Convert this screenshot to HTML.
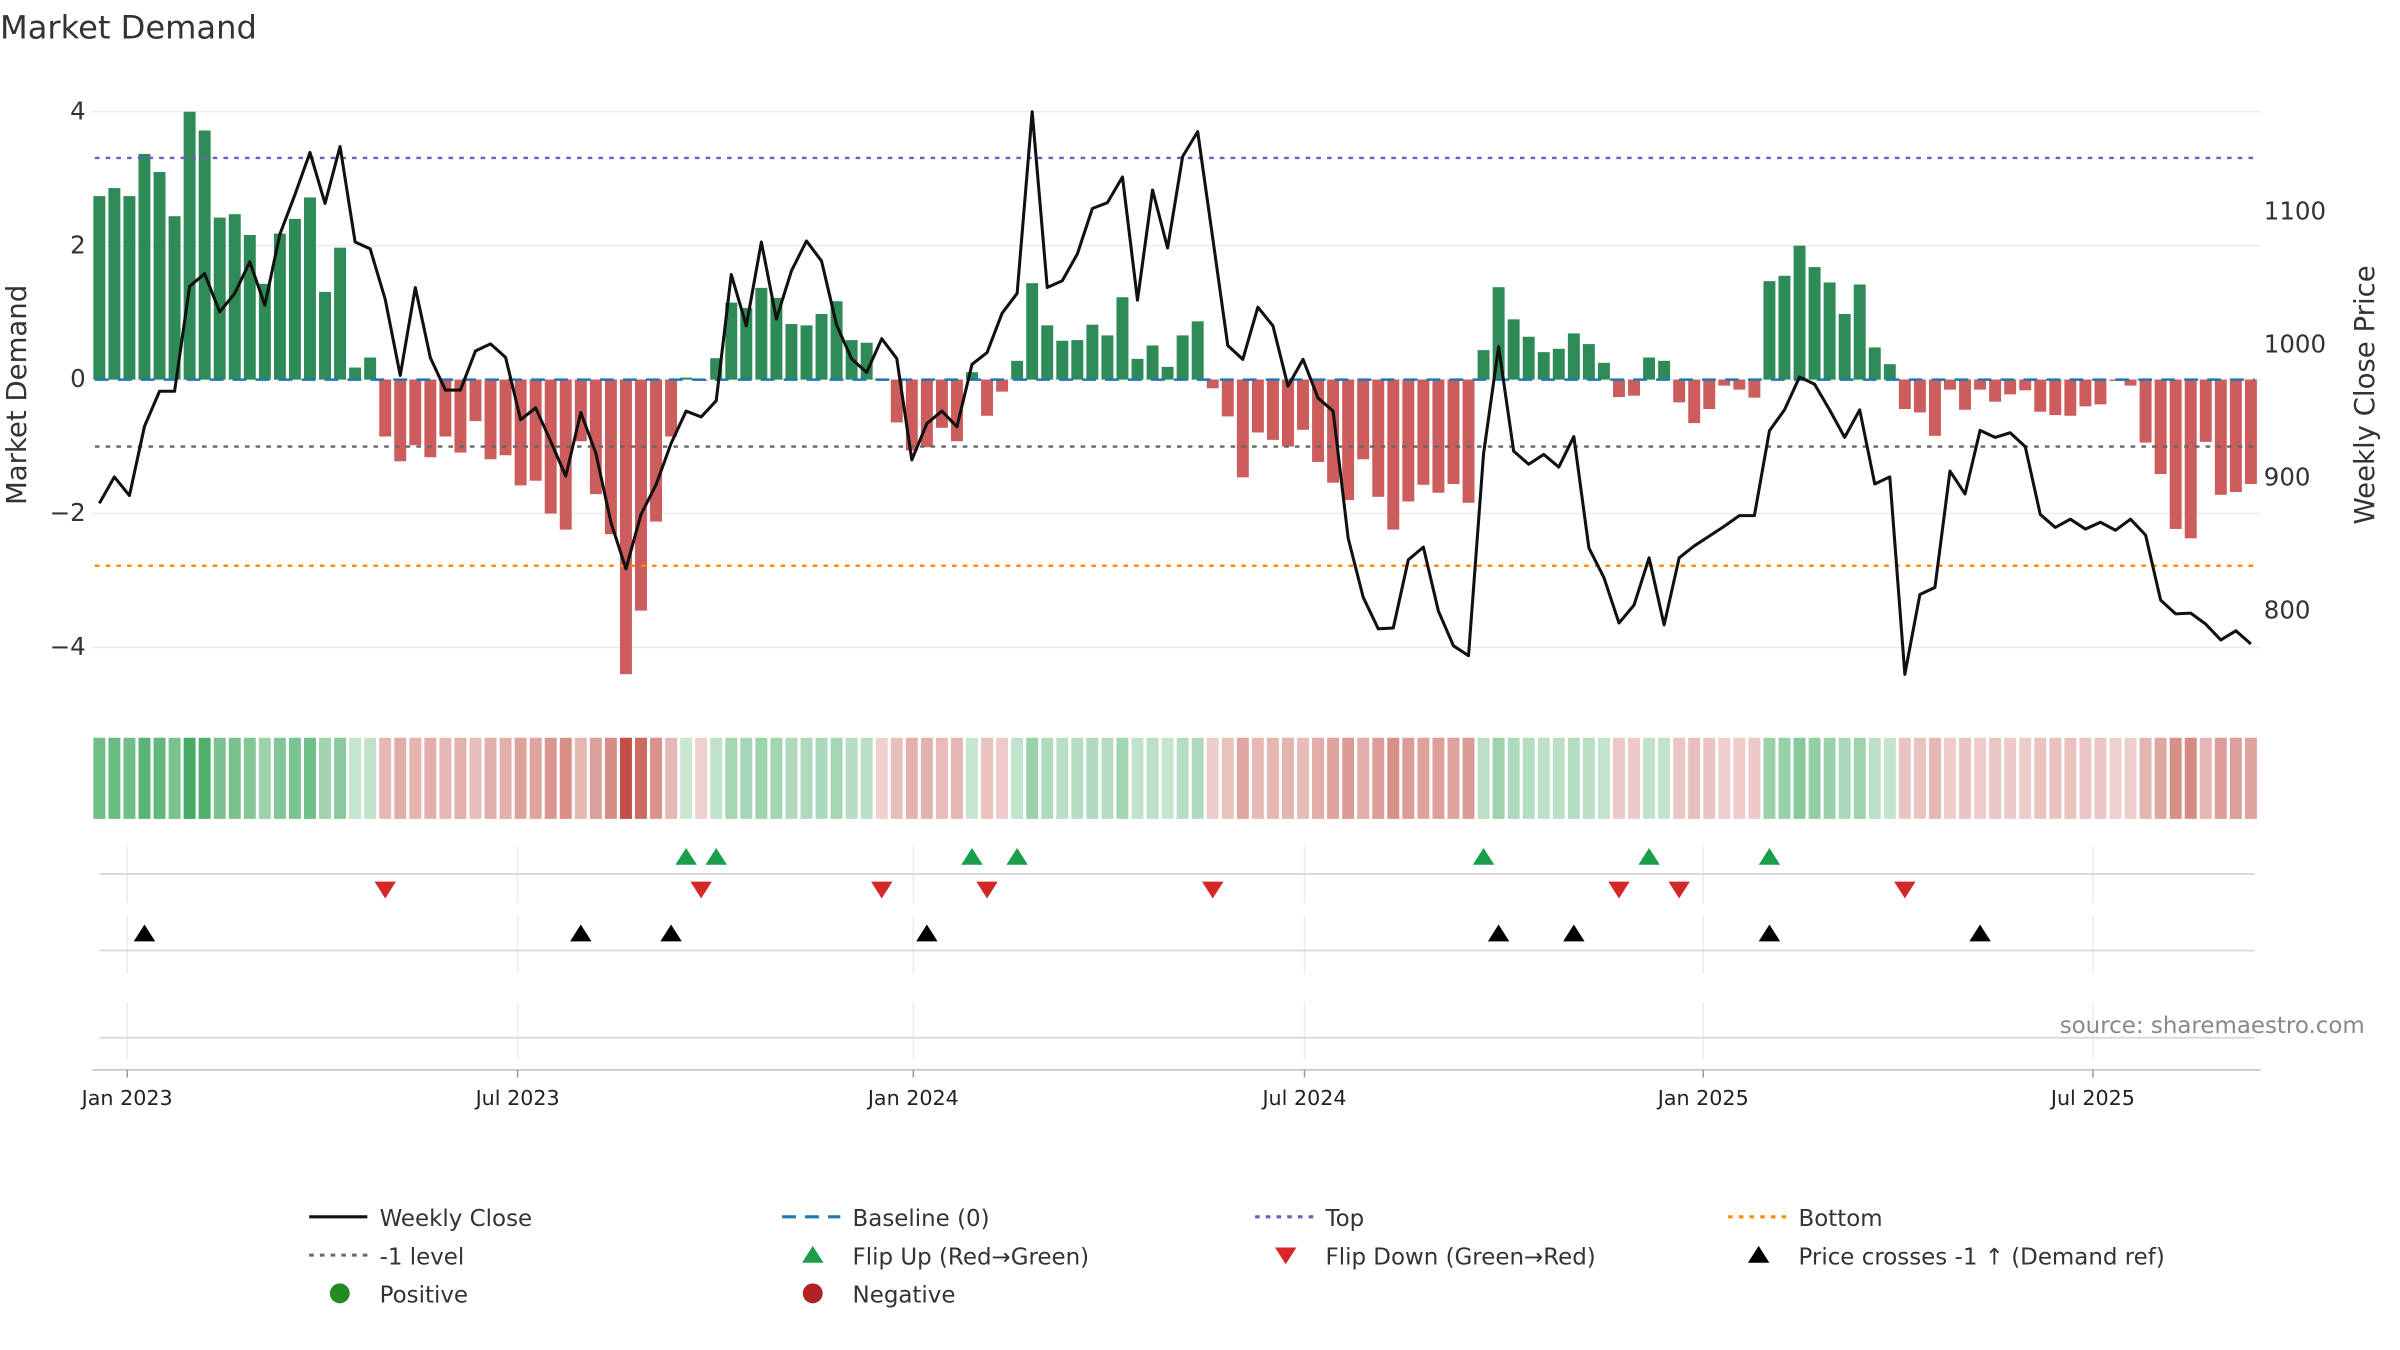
<!DOCTYPE html>
<html><head><meta charset="utf-8">
<style>
html,body{margin:0;padding:0;background:#fff;}
svg{display:block;font-family:"DejaVu Sans","Liberation Sans",sans-serif;}
</style></head>
<body>
<svg id="chart" width="2400" height="1350" viewBox="0 0 1568 882" xmlns="http://www.w3.org/2000/svg">
<text x="0" y="25" font-size="21" fill="#333">Market Demand</text>
<g id="grid"></g>
<g id="bars"></g>
<g id="lines"></g>
<g id="heat"></g>
<g id="markers"></g>
<g id="axes"></g>
<text x="1545" y="675" font-size="15" fill="#888" text-anchor="end">source: sharemaestro.com</text>
<g id="legend"></g>
</svg>
<script>
const demand = [2.74,2.86,2.74,3.37,3.10,2.44,4.0,3.72,2.42,2.47,2.16,1.43,2.18,2.40,2.72,1.31,1.97,0.18,0.33,-0.85,
-1.22,-0.98,-1.16,-0.85,-1.09,-0.62,-1.19,-1.13,-1.58,-1.51,-2.0,-2.24,-0.92,-1.71,-2.31,-4.4,-3.45,-2.12,-0.85,0.03,
-0.02,0.32,1.15,1.07,1.37,1.22,0.83,0.81,0.98,1.17,0.59,0.55,-0.02,-0.64,-1.06,-1.01,-0.72,-0.92,0.11,-0.54,
-0.18,0.28,1.44,0.81,0.58,0.59,0.82,0.66,1.23,0.31,0.51,0.19,0.66,0.87,-0.13,-0.55,-1.46,-0.79,-0.9,-1.0,
-0.75,-1.23,-1.54,-1.8,-1.19,-1.75,-2.24,-1.82,-1.57,-1.69,-1.56,-1.84,0.44,1.38,0.9,0.64,0.41,0.46,0.69,0.53,
0.25,-0.26,-0.24,0.33,0.28,-0.34,-0.65,-0.44,-0.09,-0.15,-0.27,1.47,1.55,2.0,1.68,1.45,0.98,1.42,0.48,0.23,
-0.44,-0.49,-0.84,-0.15,-0.45,-0.15,-0.33,-0.22,-0.16,-0.48,-0.53,-0.54,-0.4,-0.37,-0.02,-0.09,-0.94,-1.41,-2.23,-2.37,
-0.93,-1.72,-1.68,-1.56];
const price = [880.7,900.6,886.6,938.6,965,965,1043.9,1053.4,1024.6,1038.6,1062.3,1029.7,1083.1,1112.8,1144.5,1106.2,1149,1077.2,1072.1,1034.1,
976.9,1043,990.2,965.9,965.9,995.3,1000.6,990.5,943.6,952.5,927.3,901.2,949,918.4,866.5,831.5,872.4,894.7,925.8,950.1,
945.7,957.9,1052.8,1014.2,1077.2,1019.3,1055.5,1078,1062.9,1014.8,989.3,979.2,1004.5,989.6,913.4,940.7,950.1,938.3,985.2,994.1,
1023.7,1038.6,1175.1,1043,1048.1,1068.2,1102.4,1106.8,1126.1,1033.5,1116.3,1072.7,1141.5,1160.2,1080.1,999.4,989,1028.2,1014.2,968.8,
989,959.9,950.1,854.6,810.1,786.4,787,838.3,847.8,799.7,773.6,766.2,918,998.5,920,910.1,917.5,908,930.9,847.2,
824.9,790.8,804.2,839.8,789.3,839.8,848.7,856.1,863.5,871.5,871.5,935.3,951,975.7,970.3,951,930.3,951,895.3,900.6,
752.2,812.2,817.5,905,887.8,935.6,930.3,933.8,923.4,872.4,862.6,868.8,861.4,866.5,860.5,868.8,856.9,808,797.6,798.2,
789.9,778,784.9,775];
const leftTicks = [4,2,0,-2,-4];
const rightTicks = [1100,1000,900,800];
const xTickLabels = ["Jan 2023","Jul 2023","Jan 2024","Jul 2024","Jan 2025","Jul 2025"];
const xTickWeeks = [1.85,27.8,54.1,80.1,106.6,132.5];
const levels = [3.31,-1,-2.78]; // top, -1 level, bottom

const NS="http://www.w3.org/2000/svg";
function mk(tag,attrs,parent,text){const e=document.createElementNS(NS,tag);for(const k in attrs)e.setAttribute(k,attrs[k]);if(text!==undefined)e.textContent=text;parent.appendChild(e);return e;}
const X0=60,X1=1477;
const xw=i=>64.9+i*9.83;
const yl=v=>248-v*43.75;
const yr=p=>225.2-(p-1000)*0.869;
const pr=y=>1000-(y-225.2)/0.869;

const grid=document.getElementById('grid');
leftTicks.forEach(t=>{const l=mk('line',{x1:X0,x2:X1,y1:yl(t),y2:yl(t),stroke:'#ececec','stroke-width':1},grid);

});
[[553,590,571],[598,636,621],[655,692,678]].forEach(p=>{
 xTickWeeks.forEach(w=>{const l=mk('line',{x1:xw(w),x2:xw(w),y1:p[0],y2:p[1],stroke:'#ececec','stroke-width':1},grid);
 
 });
 const h=mk('line',{x1:65,x2:1473,y1:p[2],y2:p[2],stroke:'#d8d8d8','stroke-width':1.2},grid);
 
 
});
const bars=document.getElementById('bars');
demand.forEach((v,i)=>{const y=Math.min(yl(v),yl(0));const h=Math.abs(yl(v)-yl(0));
 const r=mk('rect',{x:xw(i)-3.9,y:y,width:7.8,height:Math.max(h,0.3),fill:v>=0?'#2e8b57':'#cd5c5c'},bars);
 
 });
const lines=document.getElementById('lines');
const lvlStyle=[['#6a5acd','top-line'],['#666','minus-one-line'],['#ff8c00','bottom-line']];
levels.forEach((v,k)=>{const l=mk('line',{x1:62,x2:1473,y1:yl(v),y2:yl(v),stroke:lvlStyle[k][0],'stroke-width':1.6,'stroke-dasharray':'3,4'},lines);
 
 });
const bl=mk('line',{x1:62,x2:1473,y1:yl(0),y2:yl(0),stroke:'#1f77b4','stroke-width':1.6,'stroke-dasharray':'9,6'},lines);


const pl=mk('polyline',{points:price.map((p,i)=>xw(i)+','+yr(p)).join(' '),fill:'none',stroke:'#111','stroke-width':2,'stroke-linejoin':'round'},lines);


const heat=document.getElementById('heat');
const maxAbs=Math.max(...demand.map(Math.abs));
demand.forEach((v,i)=>{const a=0.25+0.7*Math.abs(v)/maxAbs;
 const c=v>=0?`rgba(46,160,80,${a})`:`rgba(190,70,60,${a})`;
 const r=mk('rect',{x:xw(i)-3.9,y:482,width:7.8,height:53,fill:c},heat);
 
 });
const mkr=document.getElementById('markers');
function tri(x,y,up,col,name){const s=7;const pts=up?`${x-s},${y+5} ${x+s},${y+5} ${x},${y-6}`:`${x-s},${y-5} ${x+s},${y-5} ${x},${y+6}`;
 const t=mk('polygon',{points:pts,fill:col},mkr);
 
 }
const priceLvl=pr(yl(-1));
for(let i=1;i<demand.length;i++){
 if(demand[i-1]<0&&demand[i]>=0)tri(xw(i),560,true,'#1a9e4a','flip-up-marker');
 if(demand[i-1]>=0&&demand[i]<0)tri(xw(i),581,false,'#d62728','flip-down-marker');
 if(price[i-1]<priceLvl&&price[i]>=priceLvl)tri(xw(i),610,true,'#000','price-cross-marker');
}
const ax=document.getElementById('axes');
leftTicks.forEach(t=>{const e=mk('text',{x:56,y:yl(t)+5,'font-size':16,fill:'#333','text-anchor':'end'},ax,t<0?'\u2212'+Math.abs(t):String(t));
 
 });
rightTicks.forEach(t=>{const e=mk('text',{x:1479,y:yr(t)+5,'font-size':16,fill:'#333'},ax,String(t));
 
 });
const bx=mk('line',{x1:X0,x2:X1,y1:699,y2:699,stroke:'#ccc','stroke-width':1.2},ax);


xTickLabels.forEach((s,k)=>{const x=xw(xTickWeeks[k]);
 const tk=mk('line',{x1:x,x2:x,y1:699,y2:704,stroke:'#999'},ax);
 
 
 const e=mk('text',{x:x,y:722,'font-size':13.5,fill:'#222','text-anchor':'middle'},ax,s);
 
 });
const ylab=mk('text',{x:0,y:0,'font-size':18,fill:'#333','text-anchor':'middle',transform:'translate(17,258) rotate(-90)'},ax,'Market Demand');


const yrlab=mk('text',{x:0,y:0,'font-size':18,fill:'#333','text-anchor':'middle',transform:'translate(1551,258) rotate(-90)'},ax,'Weekly Close Price');


const lg=document.getElementById('legend');
const cols=[202,511,820,1129],rows=[795,820,845];
function lt(c,r,s){const e=mk('text',{x:cols[c]+46,y:rows[r]+6,'font-size':15,fill:'#333'},lg,s);
 
 }
function ll(c,r,col,dash,name){const e=mk('line',{x1:cols[c],x2:cols[c]+38,y1:rows[r],y2:rows[r],stroke:col,'stroke-width':2,'stroke-dasharray':dash},lg);
 
 }
ll(0,0,'#111','none','legend-weekly-close');lt(0,0,'Weekly Close');
ll(1,0,'#1f77b4','9,6','legend-baseline');lt(1,0,'Baseline (0)');
ll(2,0,'#6a5acd','3,4','legend-top');lt(2,0,'Top');
ll(3,0,'#ff8c00','3,4','legend-bottom');lt(3,0,'Bottom');
ll(0,1,'#666','3,4','legend-minus-one');lt(0,1,'-1 level');
function lm(c,r,up,col,name){const x=cols[c]+20,y=rows[r];const pts=up?`${x-7},${y+5} ${x+7},${y+5} ${x},${y-6}`:`${x-7},${y-5} ${x+7},${y-5} ${x},${y+6}`;
 const e=mk('polygon',{points:pts,fill:col},lg);
 
 }
lm(1,1,true,'#1a9e4a','legend-flip-up');lt(1,1,'Flip Up (Red\u2192Green)');
lm(2,1,false,'#d62728','legend-flip-down');lt(2,1,'Flip Down (Green\u2192Red)');
lm(3,1,true,'#000','legend-price-cross');lt(3,1,'Price crosses -1 \u2191 (Demand ref)');
const c1=mk('circle',{cx:cols[0]+20,cy:rows[2],r:6.5,fill:'#228b22'},lg);


lt(0,2,'Positive');
const c2=mk('circle',{cx:cols[1]+20,cy:rows[2],r:6.5,fill:'#b22222'},lg);


lt(1,2,'Negative');
</script>
</body></html>
